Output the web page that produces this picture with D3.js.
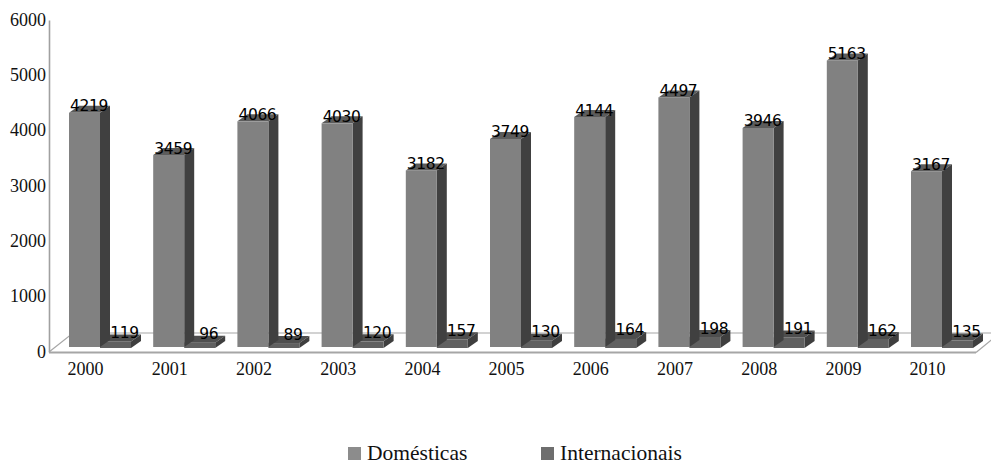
<!DOCTYPE html>
<html><head><meta charset="utf-8">
<script src="https://cdn.jsdelivr.net/npm/d3@7"></script>
<style>html,body{margin:0;padding:0;background:#fff;overflow:hidden}svg{display:block}</style>
</head><body><svg id="c" width="991" height="461"></svg>
<script>
const years = ["2000","2001","2002","2003","2004","2005","2006","2007","2008","2009","2010"];
const domesticas = [4219,3459,4066,4030,3182,3749,4144,4497,3946,5163,3167];
const internacionais = [119,96,89,120,157,130,164,198,191,162,135];
const yTicks = [0,1000,2000,3000,4000,5000,6000];
const legendNames = ["Domésticas","Internacionais"];

const W = 991, H = 461;
const svg = d3.select("#c");
const serif = "'Liberation Serif', serif";
const depthX = 10, depthY = 7;

const axisY = d3.scaleLinear().domain([0,6000]).range([352,20]);
const barY = d3.scaleLinear().domain([0,6000]).range([347,14]);
const x = d3.scaleBand().domain(years).range([69,69+84.2*11]).paddingInner(0).paddingOuter(0);
const barW = 31;

// floor and wall lines
const grid = svg.append("g").attr("fill","none").attr("stroke","#a6a6a6");
grid.append("path").attr("stroke-width",1.2)
  .attr("d",d3.line()([[49,352],[73,333],[991,333]]));
grid.append("path").attr("stroke-width",1.2)
  .attr("d",d3.line()([[976,352.5],[1000,333]]));

// value axis
const ay = svg.append("g").attr("transform","translate(49,0)")
  .call(d3.axisLeft(axisY).tickValues(yTicks).tickSize(0).tickPadding(3).tickFormat(d3.format("d")));
ay.select(".domain").attr("stroke","#a0a0a0").attr("stroke-width",1.6);
ay.selectAll("text").attr("font-family",serif).attr("font-size",18).attr("fill","#111").attr("dy","0.28em");

// category axis
const ax = svg.append("g").attr("transform","translate(0,352.5)")
  .call(d3.axisBottom(x).tickSize(0).tickPadding(10));
ax.select(".domain").attr("stroke","#a6a6a6").attr("stroke-width",1.8)
  .attr("d",d3.line()([[49,0],[976,0]]));
ax.selectAll("text").attr("font-family",serif).attr("font-size",18).attr("fill","#111").attr("dx",-25.5);

function bar3d(g, bx, top, base, c){
  g.append("path").attr("fill",c[1])
    .attr("d",d3.line()([[bx,top],[bx+depthX,top-depthY],[bx+barW+depthX,top-depthY],[bx+barW,top]])+"Z");
  g.append("path").attr("fill",c[2])
    .attr("d",d3.line()([[bx+barW,top],[bx+barW+depthX,top-depthY],[bx+barW+depthX,base-depthY],[bx+barW,base]])+"Z");
  g.append("rect").attr("x",bx).attr("y",top).attr("width",barW).attr("height",base-top).attr("fill",c[0]);
}
const colD = ["#818181","#5c5c5c","#404040"];
const colI = ["#606060","#4e4e4e","#3e3e3e"];
const marks = svg.append("g");
years.forEach((yr,i)=>{
  const bx = x(yr);
  bar3d(marks.append("g"), bx+barW, barY(internacionais[i])+1, barY(0)+1, colI);
  bar3d(marks.append("g"), bx, barY(domesticas[i]), barY(0), colD);
});

// data labels
const lab = svg.append("g").attr("font-family","'DejaVu Sans', sans-serif").attr("font-size",15.5)
  .attr("letter-spacing",-0.4).attr("fill","#000").attr("text-anchor","middle");
years.forEach((yr,i)=>{
  lab.append("text").attr("x",x(yr)+barW/2+4.5).attr("y",barY(domesticas[i])-1.5).text(domesticas[i]);
  lab.append("text").attr("x",x(yr)+barW*1.5+9).attr("y",barY(internacionais[i])-2.5).text(internacionais[i]);
});

// legend
const legX = [348,541], legC = ["#8c8c8c","#6e6e6e"];
const leg = svg.append("g");
legendNames.forEach((n,i)=>{
  leg.append("rect").attr("x",legX[i]).attr("y",447).attr("width",13).attr("height",13).attr("fill",legC[i]);
  leg.append("text").attr("x",legX[i]+19).attr("y",460).attr("font-family",serif).attr("font-size",21.5).attr("fill","#111").text(n);
});
</script></body></html>
